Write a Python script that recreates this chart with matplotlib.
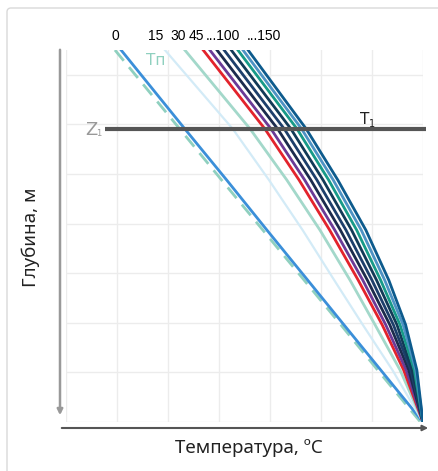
import numpy as np
import matplotlib.pyplot as plt
from matplotlib.patches import FancyBboxPatch

# depth rows (grid units, 0 = surface) where the curves were read
depth = [0, 1.59, 2.62, 3.63, 4.64, 5.54, 6.45, 7.5]

# temperature (grid units) of each curve at those depths
t0 = [1.08, 2.33, 3.15, 3.94, 4.74, 5.45, 6.17, 7.0]
t_tp = [0.96, 2.23, 3.05, 3.86, 4.67, 5.39, 6.11, 6.95]
t15 = [1.94, 3.27, 3.98, 4.64, 5.26, 5.82, 6.40, 7.0]
t30 = [2.33, 3.61, 4.33, 4.98, 5.57, 6.06, 6.55, 7.0]
t45 = [2.69, 3.90, 4.57, 5.17, 5.73, 6.20, 6.62, 7.0]
t60 = [2.82, 4.02, 4.68, 5.27, 5.82, 6.27, 6.67, 7.0]
t75 = [2.96, 4.15, 4.80, 5.38, 5.91, 6.35, 6.72, 7.0]
t90 = [3.10, 4.28, 4.92, 5.49, 6.00, 6.42, 6.76, 7.0]
t100 = [3.24, 4.41, 5.04, 5.60, 6.09, 6.49, 6.79, 7.0]
t120 = [3.37, 4.53, 5.15, 5.70, 6.17, 6.55, 6.83, 7.0]
t135 = [3.47, 4.62, 5.24, 5.79, 6.25, 6.61, 6.86, 7.0]
t150 = [3.57, 4.71, 5.33, 5.88, 6.33, 6.66, 6.88, 7.0]

top_labels = ["0", "15", "30", "45", "...100", "...150"]
top_label_x = [0.96, 1.75, 2.2, 2.55, 3.08, 3.88]
z1 = 1.59

fig = plt.figure(figsize=(4.39, 4.71), dpi=100)
ax = fig.add_axes([0.1503, 0.1040, 0.8132, 0.7898])

# frame around the picture
fig.add_artist(FancyBboxPatch((7, -20), 460, 483, boxstyle="round,pad=0,rounding_size=4",
                              transform=None, fc="none", ec="#d9d9d9", lw=1))

ax.plot(t_tp, depth, color="#8fd0bf", lw=2, dashes=(5, 3))
ax.plot(t0, depth, color="#3b8fd9", lw=2)
ax.plot(t15, depth, color="#d3ebf7", lw=1.6)
ax.plot(t30, depth, color="#a3d8ca", lw=2)
curves = [t45, t60, t75, t90, t100, t120, t135, t150]
colors = ["#e3232c", "#6b3a96", "#1b2b4d", "#1d3f6b", "#123a57", "#179a88", "#4d93c4", "#0d5b8d"]
for c, col in zip(curves, colors):
    ax.plot(c, depth, color=col, lw=2)

ax.plot([0.76, 7.06], [z1, z1], color="#555555", lw=3, clip_on=False, solid_capstyle="butt")

ax.set_xlim(0, 7)
ax.set_ylim(7.5, 0)
ax.set_xticks(np.arange(0, 8))
ax.set_yticks(np.arange(0.5, 8, 1))
ax.grid(True, color="#ececec", lw=1)
ax.tick_params(length=0, labelbottom=False, labelleft=False)
for s in ax.spines.values():
    s.set_visible(False)

for lab, x in zip(top_labels, top_label_x):
    ax.text(x, -0.15, lab, ha="center", va="bottom", fontsize=10,
            family="Liberation Sans", clip_on=False)

ax.text(0.49, 1.72, "Z", ha="center", va="baseline", fontsize=13, color="#999999", clip_on=False)
ax.text(0.6, 1.74, "1", ha="left", va="baseline", fontsize=6, color="#999999", clip_on=False)
ax.text(5.86, 1.49, "T", ha="center", va="baseline", fontsize=11, color="#222222")
ax.text(5.95, 1.56, "1", ha="left", va="baseline", fontsize=7, color="#222222")
ax.text(1.75, 0.22, "Tп", ha="center", va="center", fontsize=11, color="#8fd0bf")

# axis arrows drawn in figure pixels
ax.annotate("", xy=(60, 53), xytext=(60, 424), xycoords="figure pixels",
            arrowprops=dict(arrowstyle="-|>", color="#999999", lw=1.8, mutation_scale=8))
ax.annotate("", xy=(431, 43), xytext=(59, 43), xycoords="figure pixels",
            arrowprops=dict(arrowstyle="-|>", color="#555555", lw=1.5, mutation_scale=8))

fig.text(249 / 439, 23 / 471, "Температура, ºC", ha="center", va="center",
         fontsize=13.5, family="Noto Sans", color="#222222")
fig.text(31 / 439, 234 / 471, "Глубина, м", ha="center", va="center", rotation=90,
         fontsize=13.5, family="Noto Sans", color="#222222")

fig.savefig("out.png", dpi=100)
